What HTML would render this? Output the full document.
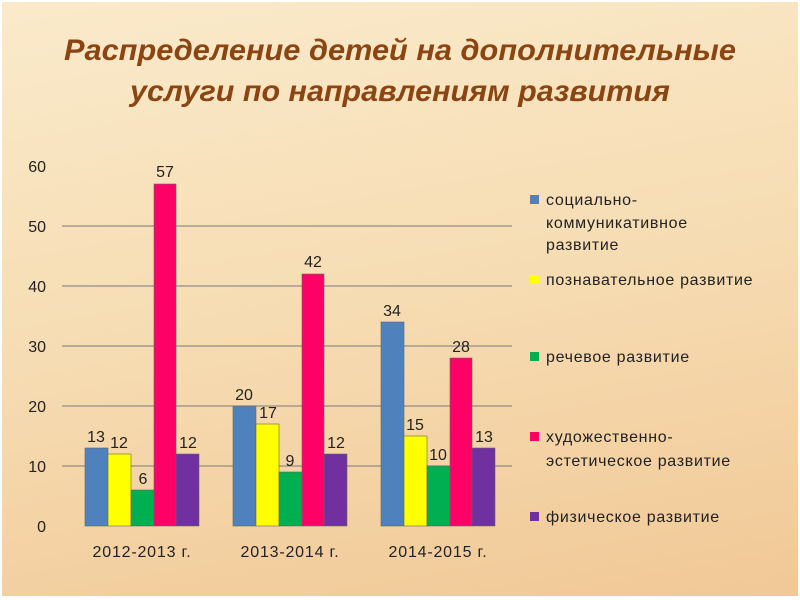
<!DOCTYPE html>
<html><head><meta charset="utf-8"><style>
body{margin:0;width:800px;height:600px;overflow:hidden;background:#fff;}
.s{position:absolute;left:2px;top:2px;width:796px;height:594px;background:linear-gradient(170deg,#faeacb 0%,#f6dcb2 50%,#f1c896 100%);}
</style></head><body><div class="s"></div>
<svg width="800" height="600" style="position:absolute;left:0;top:0" font-family="Liberation Sans, DejaVu Sans, sans-serif">
<text x="400" y="60" text-anchor="middle" font-size="30" font-weight="bold" font-style="italic" fill="#8b4512" textLength="672" lengthAdjust="spacingAndGlyphs">Распределение детей на дополнительные</text>
<text x="400" y="101" text-anchor="middle" font-size="30" font-weight="bold" font-style="italic" fill="#8b4512" textLength="540" lengthAdjust="spacingAndGlyphs">услуги по направлениям развития</text>
<g stroke="#7a7a7a" stroke-width="1">
<line x1="62" x2="512" y1="226" y2="226"/><line x1="62" x2="512" y1="286" y2="286"/><line x1="62" x2="512" y1="346" y2="346"/><line x1="62" x2="512" y1="406" y2="406"/><line x1="62" x2="512" y1="466" y2="466"/>
</g>
<g font-size="16" fill="#222" text-anchor="end">
<text x="46" y="172">60</text><text x="46" y="232">50</text><text x="46" y="292">40</text><text x="46" y="352">30</text><text x="46" y="412">20</text><text x="46" y="472">10</text><text x="46" y="532">0</text>
</g>
<g stroke="#666" stroke-width="0.6">
<rect x="85" y="448" width="23" height="78" fill="#4f81bd"/><rect x="108" y="454" width="23" height="72" fill="#ffff00"/><rect x="131" y="490" width="23" height="36" fill="#00b050"/><rect x="154" y="184" width="22" height="342" fill="#ff0066"/><rect x="176" y="454" width="23" height="72" fill="#7030a0"/>
<rect x="233" y="406" width="23" height="120" fill="#4f81bd"/><rect x="256" y="424" width="23" height="102" fill="#ffff00"/><rect x="279" y="472" width="23" height="54" fill="#00b050"/><rect x="302" y="274" width="22" height="252" fill="#ff0066"/><rect x="324" y="454" width="23" height="72" fill="#7030a0"/>
<rect x="381" y="322" width="23" height="204" fill="#4f81bd"/><rect x="404" y="436" width="23" height="90" fill="#ffff00"/><rect x="427" y="466" width="23" height="60" fill="#00b050"/><rect x="450" y="358" width="22" height="168" fill="#ff0066"/><rect x="472" y="448" width="23" height="78" fill="#7030a0"/>
</g>
<g font-size="16" fill="#222" text-anchor="middle">
<text x="96" y="442">13</text><text x="119" y="448">12</text><text x="143" y="484">6</text><text x="165" y="177">57</text><text x="188" y="448">12</text>
<text x="244" y="400">20</text><text x="268" y="418">17</text><text x="290" y="466">9</text><text x="313" y="267">42</text><text x="336" y="448">12</text>
<text x="392" y="316">34</text><text x="415" y="430">15</text><text x="438" y="460">10</text><text x="461" y="352">28</text><text x="484" y="442">13</text>
</g>
<g font-size="16" fill="#222" text-anchor="middle" letter-spacing="0.8">
<text x="142" y="557">2012-2013 г.</text><text x="290" y="557">2013-2014 г.</text><text x="438" y="557">2014-2015 г.</text>
</g>
<g font-size="16" fill="#222" letter-spacing="0.7">
<rect x="530" y="195" width="9" height="9" fill="#4f81bd"/><text x="546" y="205">социально-</text><text x="546" y="228">коммуникативное</text><text x="546" y="250">развитие</text>
<rect x="530" y="275" width="9" height="9" fill="#ffff00"/><text x="546" y="285">познавательное развитие</text>
<rect x="530" y="352" width="9" height="9" fill="#00b050"/><text x="546" y="362">речевое развитие</text>
<rect x="530" y="432" width="9" height="9" fill="#ff0066"/><text x="546" y="442">художественно-</text><text x="546" y="466">эстетическое развитие</text>
<rect x="530" y="512" width="9" height="9" fill="#7030a0"/><text x="546" y="522">физическое развитие</text>
</g>
</svg></body></html>
